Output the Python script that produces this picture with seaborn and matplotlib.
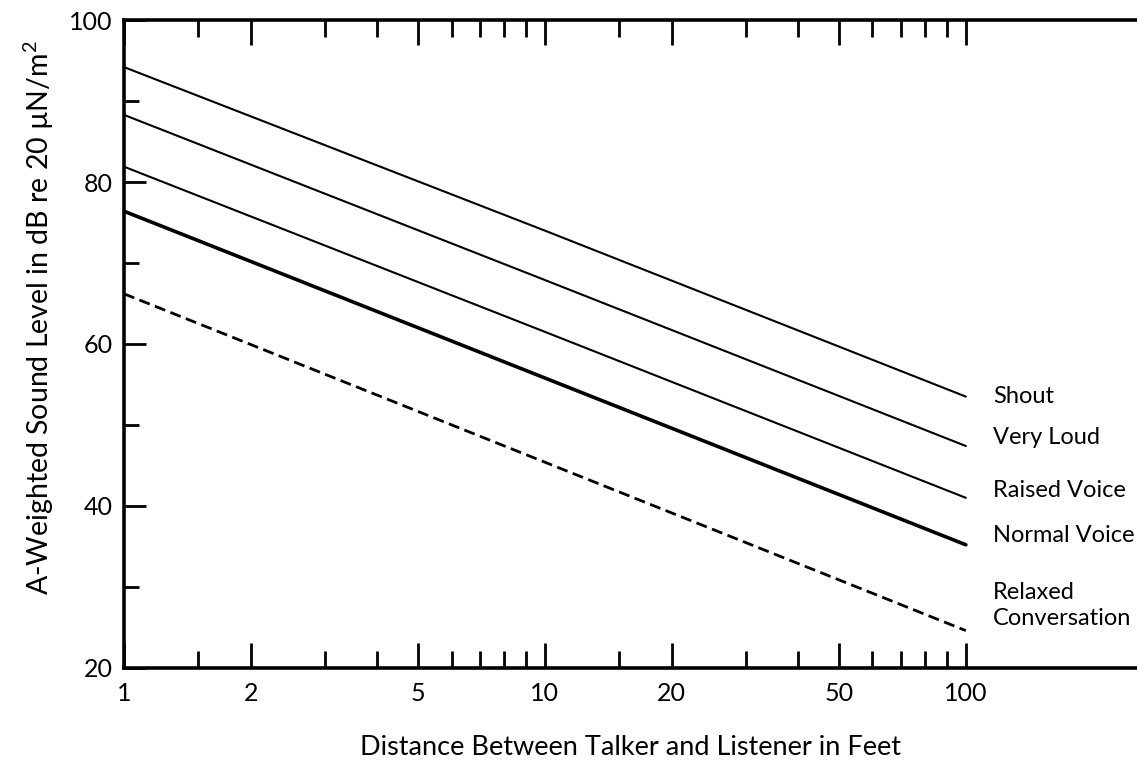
import numpy as np
import pandas as pd
import matplotlib
matplotlib.use("Agg")
import matplotlib.pyplot as plt
import matplotlib.ticker as mticker
import seaborn as sns

# ---- data ----
distance_ft = [1, 10, 100]
shout = [94.2, 74.0, 53.5]
very_loud = [88.3, 67.9, 47.4]
raised_voice = [81.9, 61.5, 41.0]
normal_voice = [76.4, 55.8, 35.2]
relaxed_conversation = [66.2, 45.4, 24.6]

series_names = ["Shout", "Very Loud", "Raised Voice", "Normal Voice", "Relaxed\nConversation"]
label_y = [53.5, 48.5, 41.9, 36.4, 27.7]

x_major_ticks = [1, 2, 5, 10, 20, 50, 100]
x_minor_ticks = [1.5, 3, 4, 6, 7, 8, 9, 15, 30, 40, 60, 70, 80, 90]
y_major_ticks = [20, 40, 60, 80, 100]
y_minor_ticks = [30, 50, 70, 90]

sns.set_style("ticks")
plt.rcParams['font.family'] = ['Lato', 'DejaVu Sans']
plt.rcParams['text.color'] = 'black'
plt.rcParams['axes.labelcolor'] = 'black'
plt.rcParams['xtick.color'] = 'black'
plt.rcParams['ytick.color'] = 'black'
plt.rcParams['mathtext.fontset'] = 'custom'
plt.rcParams['mathtext.rm'] = 'Lato'

fig = plt.figure(figsize=(11.37, 7.73), dpi=100)
ax = fig.add_axes([0.109, 0.136, 0.891, 0.838])

values = [shout, very_loud, raised_voice, normal_voice, relaxed_conversation]
widths = [1.5, 1.5, 1.5, 2.6, 2.0]
styles = ["-", "-", "-", "-", "--"]
for name, vals, lw, ls in zip(series_names, values, widths, styles):
    df = pd.DataFrame({"d": distance_ft, "L": vals})
    sns.lineplot(data=df, x="d", y="L", color="black", linewidth=lw,
                 linestyle=ls, ax=ax, legend=False)
ax.lines[-1].set_dashes((4, 2))

ax.set_xscale("log")
ax.set_xlim(1, 255)
ax.set_ylim(20, 100)

ax.xaxis.set_major_locator(mticker.FixedLocator(x_major_ticks))
ax.xaxis.set_major_formatter(mticker.FixedFormatter([str(t) for t in x_major_ticks]))
ax.xaxis.set_minor_locator(mticker.FixedLocator(x_minor_ticks))
ax.xaxis.set_minor_formatter(mticker.NullFormatter())
ax.yaxis.set_major_locator(mticker.FixedLocator(y_major_ticks))
ax.yaxis.set_minor_locator(mticker.FixedLocator(y_minor_ticks))

ax.tick_params(axis="both", which="both", direction="in", color="black", width=2.0,
               top=True, right=False, labelsize=18)
ax.tick_params(axis="x", which="major", length=18, pad=10)
ax.tick_params(axis="x", which="minor", length=12)
ax.tick_params(axis="y", which="major", length=16, pad=8)
ax.tick_params(axis="y", which="minor", length=11)

for side in ["left", "bottom", "top"]:
    ax.spines[side].set_linewidth(2.6)
    ax.spines[side].set_color("black")
ax.spines["right"].set_visible(False)

ax.set_xlabel("Distance Between Talker and Listener in Feet", fontsize=19.5, labelpad=22)
ax.set_ylabel("A-Weighted Sound Level in dB re 20 \u00b5N/m$^2$", fontsize=20.5)
ax.yaxis.set_label_coords(-0.067, 0.54)

for name, yy in zip(series_names, label_y):
    ax.text(116, yy, name, fontsize=17, va="center", ha="left",
            linespacing=1.25, clip_on=False)

fig.savefig("out.png", dpi=100)
